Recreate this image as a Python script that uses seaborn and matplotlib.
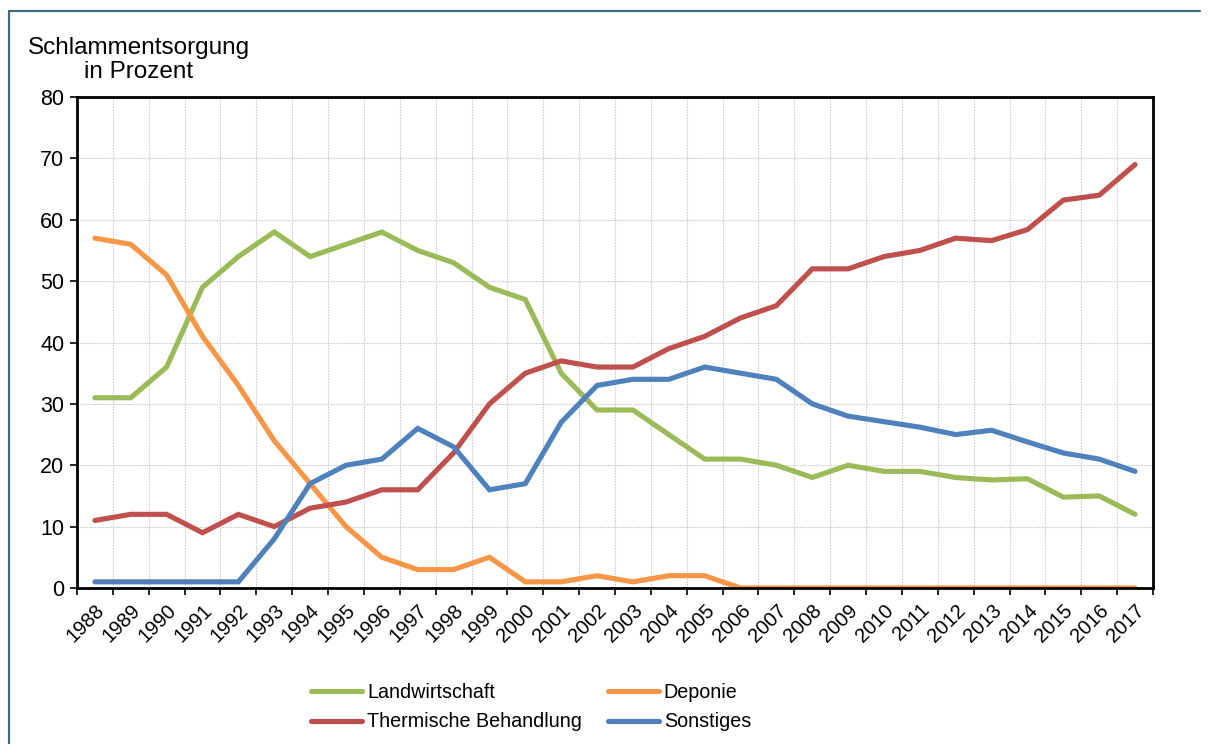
import pandas as pd
import matplotlib.pyplot as plt
import seaborn as sns
from matplotlib.lines import Line2D

years = list(range(1988, 2018))
landwirtschaft = [31, 31, 36, 49, 54, 58, 54, 56, 58, 55, 53, 49, 47, 35, 29,
                  29, 25, 21, 21, 20, 18, 20, 19, 19, 18, 17.6, 17.8, 14.8, 15, 12]
deponie = [57, 56, 51, 41, 33, 24, 17, 10, 5, 3, 3, 5, 1, 1, 2,
           1, 2, 2, 0, 0, 0, 0, 0, 0, 0, 0, 0, 0, 0, 0]
thermisch = [11, 12, 12, 9, 12, 10, 13, 14, 16, 16, 22, 30, 35, 37, 36,
             36, 39, 41, 44, 46, 52, 52, 54, 55, 57, 56.6, 58.4, 63.2, 64, 69]
sonstiges = [1, 1, 1, 1, 1, 8, 17, 20, 21, 26, 23, 16, 17, 27, 33,
             34, 34, 36, 35, 34, 30, 28, 27.1, 26.2, 25, 25.7, 23.8, 22, 21, 19]

series = ['Landwirtschaft', 'Deponie', 'Thermische Behandlung', 'Sonstiges']
colors = ['#9BBB59', '#F79646', '#C0504D', '#4F81BD']

df = pd.DataFrame({
    'Jahr': years * 4,
    'Wert': landwirtschaft + deponie + thermisch + sonstiges,
    'Art': [s for s in series for _ in years],
})

sns.set_style('white')
plt.rcParams['font.family'] = ['Liberation Sans', 'DejaVu Sans']
plt.rcParams['text.color'] = 'black'

fig = plt.figure(figsize=(12.1, 7.44), dpi=100)
ax = fig.add_axes([0.0636, 0.2097, 0.8893, 0.6599])

sns.lineplot(data=df, x='Jahr', y='Wert', hue='Art', hue_order=series,
             palette=colors, linewidth=3.7, ax=ax, legend=False,
             solid_capstyle='round', solid_joinstyle='miter')

ax.set_xlim(1987.5, 2017.5)
ax.set_ylim(0, 80)
ax.set_yticks(range(0, 81, 10))
ax.tick_params(axis='y', labelsize=15.5, length=5, width=1.2, direction='out',
               left=True, pad=4, colors='black')

ax.set_xticks(years)
ax.set_xticklabels([str(y) for y in years], rotation=45, ha='right',
                   rotation_mode='anchor', fontsize=14.5)
ax.set_xticks([y - 0.5 for y in years] + [2017.5], minor=True)
ax.tick_params(axis='x', which='major', length=0, pad=9, colors='black')
ax.tick_params(axis='x', which='minor', length=5, width=1.2, direction='out',
               bottom=True, colors='black')
ax.set_xlabel('')
ax.set_ylabel('')

ax.grid(False)
ax.grid(axis='x', which='minor', color='#cccccc', linestyle=(0, (1.5, 1)),
        linewidth=0.8)
ax.grid(axis='y', which='major', color='#cccccc', linestyle=(0, (1.5, 1)),
        linewidth=0.8)
ax.set_axisbelow(True)

for side in ['left', 'bottom', 'right', 'top']:
    ax.spines[side].set_visible(True)
    ax.spines[side].set_color('black')
    ax.spines[side].set_linewidth(2)

fig.text(139 / 1210, 1 - 37 / 744, 'Schlammentsorgung\nin Prozent',
         ha='center', va='top', fontsize=17.5, linespacing=1.1,
         multialignment='center', color='black')

# legend: row 1 Landwirtschaft / Deponie, row 2 Thermische / Sonstiges
order = [0, 2, 1, 3]
handles = [Line2D([0], [0], color=colors[i], lw=3.7, solid_capstyle='round')
           for i in order]
labels = [series[i] for i in order]
fig.legend(handles, labels, ncol=2, loc='center',
           bbox_to_anchor=(531 / 1210, 1 - 707 / 744), frameon=False,
           fontsize=14.2, handlelength=2.6, handletextpad=0.25,
           columnspacing=1.3, labelspacing=0.55, labelcolor='black')

# outer frame lines
fig.add_artist(Line2D([9 / 1210, 9 / 1210], [0, 1 - 11 / 744],
                      color='#3f6a80', lw=1.6))
fig.add_artist(Line2D([9 / 1210, 1200 / 1210], [1 - 11 / 744, 1 - 11 / 744],
                      color='#3f6a80', lw=1.6))

fig.savefig('out.png', dpi=100)
